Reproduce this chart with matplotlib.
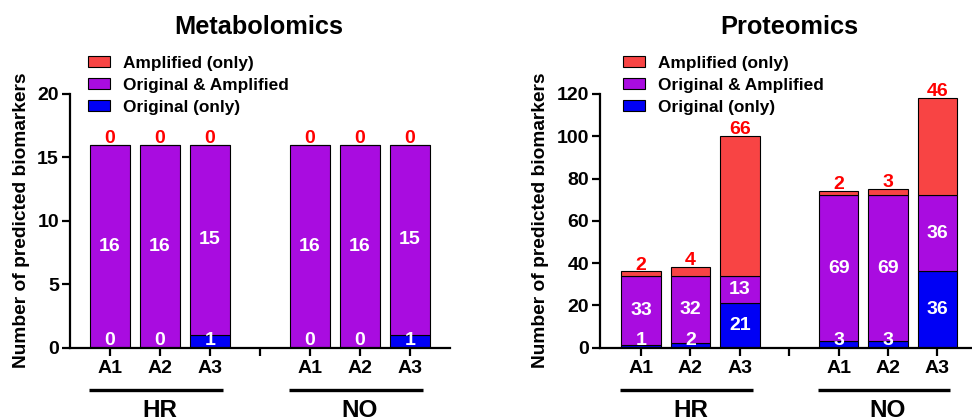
import matplotlib.pyplot as plt
import matplotlib.transforms as mtransforms
from matplotlib.patches import Patch

plt.rcParams['font.family'] = ['Liberation Sans', 'DejaVu Sans']
plt.rcParams['font.weight'] = 'bold'

# bar order: HR A1-A3, then NO A1-A3
cats = ['A1', 'A2', 'A3', 'A1', 'A2', 'A3']
groups = ['HR', 'NO']
series = ['Amplified (only)', 'Original & Amplified', 'Original (only)']

metab_orig = [0, 0, 1, 0, 0, 1]
metab_both = [16, 16, 15, 16, 16, 15]
metab_amp = [0, 0, 0, 0, 0, 0]

prot_orig = [1, 2, 21, 3, 3, 36]
prot_both = [33, 32, 13, 69, 69, 36]
prot_amp = [2, 4, 66, 2, 3, 46]

RED = '#F84444'
PURPLE = '#A90CE0'
BLUE = '#0000F5'

pos = [0, 1, 2, 4, 5, 6]


def draw(ax, orig, both, amp, ymax, yticks, xlim, title_x, title, ylab_x):
    bottom2 = [o + b for o, b in zip(orig, both)]
    ax.bar(pos, orig, width=0.8, color=BLUE, edgecolor='black', linewidth=0.8)
    ax.bar(pos, both, bottom=orig, width=0.8, color=PURPLE, edgecolor='black', linewidth=0.8)
    ax.bar(pos, amp, bottom=bottom2, width=0.8, color=RED, edgecolor='black', linewidth=0.8)

    clamp = ymax * 7 / 253
    for x, o, b, a in zip(pos, orig, both, amp):
        ax.text(x, max(o / 2, clamp), str(o), ha='center', va='center',
                color='white', fontsize=14, fontweight='bold')
        ax.text(x, o + b / 2, str(b), ha='center', va='center',
                color='white', fontsize=14, fontweight='bold')
        ax.annotate(str(a), (x, o + b + a), xytext=(0, -1.5), textcoords='offset points',
                    ha='center', va='bottom', color='#FF0000', fontsize=14,
                    fontweight='bold')

    ax.set_ylim(0, ymax)
    ax.set_yticks(yticks)
    ax.set_xlim(*xlim)
    ax.set_xticks([0, 1, 2, 3, 4, 5, 6])
    ax.set_xticklabels(cats[:3] + [''] + cats[3:])
    for s in ['top', 'right']:
        ax.spines[s].set_visible(False)
    for s in ['left', 'bottom']:
        ax.spines[s].set_linewidth(1.6)
    ax.tick_params(axis='both', length=6, width=1.6, labelsize=14)
    ax.tick_params(axis='x', pad=3)
    ax.tick_params(axis='y', pad=2)
    for lab in ax.get_xticklabels() + ax.get_yticklabels():
        lab.set_fontweight('bold')

    ax.set_ylabel('Number of predicted biomarkers', fontsize=13.8, fontweight='bold')
    ax.yaxis.set_label_coords(ylab_x, 0.5)

    # group underlines and labels
    tr = mtransforms.blended_transform_factory(ax.transData, ax.transAxes)
    for g, start in zip(groups, [0, 4]):
        ax.plot([start - 0.42, start + 2.26], [-0.168, -0.168], color='black',
                linewidth=2.4, transform=tr, clip_on=False, solid_capstyle='butt')
        ax.text(start + 1, -0.205, g, ha='center', va='top', fontsize=17.5,
                fontweight='bold', transform=tr, clip_on=False)

    fig.text(title_x, 1 - 27 / 418, title, ha='center', va='center',
             fontsize=18.3, fontweight='bold')

    handles = [Patch(facecolor=RED, edgecolor='black', linewidth=0.8),
               Patch(facecolor=PURPLE, edgecolor='black', linewidth=0.8),
               Patch(facecolor=BLUE, edgecolor='black', linewidth=0.8)]
    return handles


fig = plt.figure(figsize=(9.72, 4.18), dpi=100)
ax1 = fig.add_axes([70 / 972, 70.5 / 418, 380 / 972, 253.5 / 418])
ax2 = fig.add_axes([600 / 972, 70.5 / 418, 371.5 / 972, 253.5 / 418])

h1 = draw(ax1, metab_orig, metab_both, metab_amp, 20, [0, 5, 10, 15, 20],
          (-0.8, 6.8), 259 / 972, 'Metabolomics', -0.105)
h2 = draw(ax2, prot_orig, prot_both, prot_amp, 120, [0, 20, 40, 60, 80, 100, 120],
          (-0.83, 6.69), 789 / 972, 'Proteomics', -0.137)

for h, lx in [(h1, 88), (h2, 623)]:
    fig.legend(h, series, loc='upper left', bbox_to_anchor=(lx / 972, 1 - 56 / 418),
               frameon=False, handlelength=1.3, handleheight=0.6,
               handletextpad=0.75, labelspacing=0.4, borderpad=0, borderaxespad=0,
               prop={'weight': 'bold', 'size': 12.4})

fig.savefig('out.png', dpi=100)
